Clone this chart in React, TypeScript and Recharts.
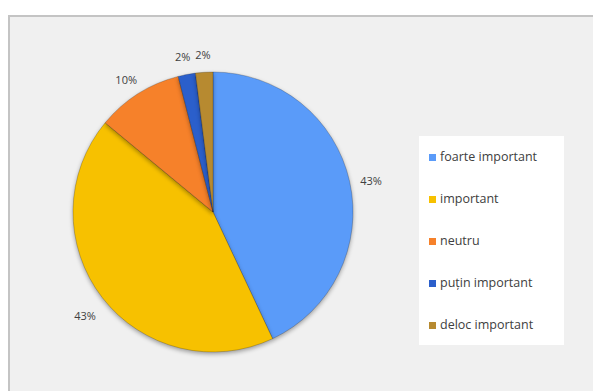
import { PieChart, Pie, Cell, Legend } from 'recharts'

const categorii = ['foarte important', 'important', 'neutru', 'puțin important', 'deloc important']
const procente = [43, 43, 10, 2, 2]
const culori = ['#5A9BF9', '#F7C100', '#F6812A', '#2B5FCB', '#B78A30']

const date = categorii.map((nume, i) => ({ nume, valoare: procente[i] }))

const RAD = Math.PI / 180
const font = "'Open Sans', Lato, sans-serif"

function Eticheta(props: any) {
  const { cx, cy, midAngle, outerRadius, value } = props
  const r = outerRadius + 22
  const x = cx + r * Math.cos(-midAngle * RAD)
  const y = cy + r * Math.sin(-midAngle * RAD) + 4
  return (
    <text x={x} y={y} textAnchor="middle" dominantBaseline="central" fill="#404040" fontSize={11} fontFamily={font}>
      {`${value}%`}
    </text>
  )
}

function Legenda(props: any) {
  const items = [...(props.payload || [])].sort(
    (a: any, b: any) => categorii.indexOf(a.value) - categorii.indexOf(b.value)
  )
  return (
    <div style={{ background: '#fff', width: 145, height: 209, boxSizing: 'border-box', fontFamily: font }}>
      {items.map((it: any) => (
        <div key={it.value} style={{ display: 'flex', alignItems: 'center', height: 42, paddingLeft: 10, fontSize: 12.5, color: '#404040', lineHeight: '12px' }}>
          <span style={{ width: 7, height: 7, background: it.color, marginRight: 4, display: 'inline-block' }} />
          {it.value}
        </div>
      ))}
    </div>
  )
}

export default function App() {
  return (
    <div style={{ marginTop: 7, width: 591, height: 376, background: '#F0F0F0', borderTop: '2px solid #C4C4C4', borderLeft: '2px solid #C4C4C4' }}>
      <PieChart width={591} height={374} margin={{ top: 0, right: 0, bottom: 0, left: 0 }}>
        <Pie
          data={date}
          dataKey="valoare"
          nameKey="nume"
          cx={203}
          cy={195}
          outerRadius={140}
          startAngle={90}
          endAngle={-270}
          stroke="rgba(0,0,0,0.2)"
          strokeWidth={1}
          label={Eticheta}
          labelLine={false}
          isAnimationActive={false}
          style={{ filter: 'drop-shadow(0px 2px 2px rgba(0,0,0,0.35))' }}
        >
          {date.map((d, i) => (
            <Cell key={d.nume} fill={culori[i]} />
          ))}
        </Pie>
        <Legend
          layout="vertical"
          content={Legenda}
          wrapperStyle={{ position: 'absolute', left: 409, top: 119, width: 145 }}
        />
      </PieChart>
    </div>
  )
}
